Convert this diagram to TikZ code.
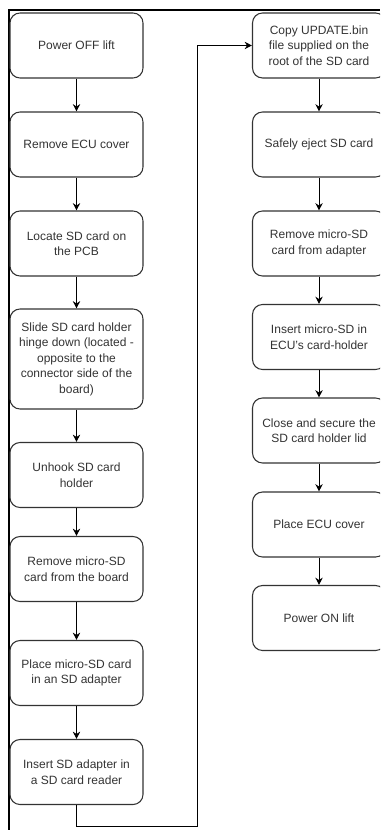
\documentclass[tikz,border=0pt]{standalone}
\usepackage{fontspec}
\setmainfont{Liberation Sans}
\usepackage{tikz}
\usetikzlibrary{arrows.meta,positioning,calc}
\definecolor{boxgray}{RGB}{51,51,51}

\begin{document}
\begin{tikzpicture}[
    x=0.75pt, y=-0.75pt,
    stepbox/.style={draw=boxgray, line width=0.8pt, rounded corners=7.5pt, minimum width=99.75pt, minimum height=48.75pt, align=center, inner sep=1pt, text=boxgray, font=\fontsize{9}{11.6}\selectfont},
    tallbox/.style={stepbox, minimum height=75pt},
    flow/.style={draw=black, line width=0.75pt, -{Stealth[length=5.5pt,width=5.5pt]}},
    frame/.style={draw=black, line width=1.5pt}
]
    \useasboundingbox (0,0) rectangle (380,830);
    \clip (0,0) rectangle (380,830);

    % Outer frame
    \draw[frame] (8.5,830) |- (380,10.5);

    % Left column
    \node[stepbox] (b1) at (76.5,45.5) {Power OFF lift};
    \node[stepbox] (b2) at (76.5,144.5) {Remove ECU cover};
    \node[stepbox] (b3) at (76.5,243.5) {Locate SD card on\\the PCB};
    \node[tallbox] (b4) at (76.5,359) {Slide SD card holder\\hinge down (located -\\opposite to the\\connector side of the\\board)};
    \node[stepbox] (b5) at (76.5,475) {Unhook SD card\\holder};
    \node[stepbox] (b6) at (76.5,569) {Remove micro-SD\\card from the board};
    \node[stepbox] (b7) at (76.5,673) {Place micro-SD card\\in an SD adapter};
    \node[stepbox] (b8) at (76.5,772) {Insert SD adapter in\\a SD card reader};

    % Right column
    \node[stepbox] (r1) at (319,45.5) {Copy UPDATE.bin\\file supplied on the\\root of the SD card};
    \node[stepbox] (r2) at (319,144.5) {Safely eject SD card};
    \node[stepbox] (r3) at (319,243.5) {Remove micro-SD\\card from adapter};
    \node[stepbox] (r4) at (319,337) {Insert micro-SD in\\ECU's card-holder};
    \node[stepbox] (r5) at (319,430.5) {Close and secure the\\SD card holder lid};
    \node[stepbox] (r6) at (319,524.5) {Place ECU cover};
    \node[stepbox] (r7) at (319,618) {Power ON lift};

    % Arrows
    \foreach \a/\b in {b1/b2,b2/b3,b3/b4,b4/b5,b5/b6,b6/b7,b7/b8,r1/r2,r2/r3,r3/r4,r4/r5,r5/r6,r6/r7}
        \draw[flow] (\a) -- (\b);

    % Link between columns
    \coordinate (turn) at (197.5,826.5);
    \draw[flow] (b8.south) |- (turn) |- (r1.west);
\end{tikzpicture}
\end{document}
